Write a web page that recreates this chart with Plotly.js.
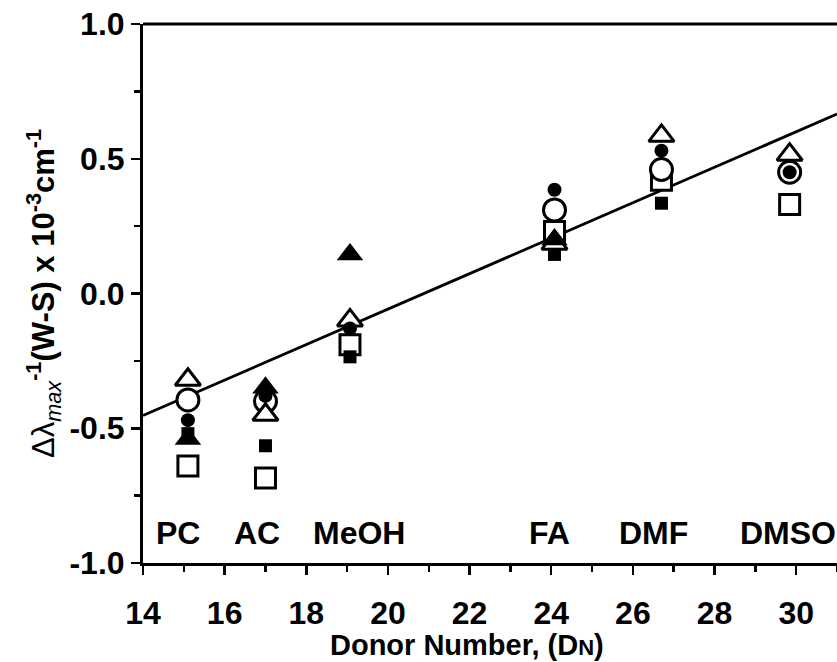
<!DOCTYPE html>
<html>
<head>
<meta charset="utf-8">
<script src="https://cdn.plot.ly/plotly-3.0.1.min.js"></script>
<style>
  html, body { margin: 0; padding: 0; background: #fff; }
  #chart { width: 837px; height: 662px; }
</style>
</head>
<body>
<div id="chart"></div>
<script>
// Solvents and donor numbers
const solvents = ["PC", "AC", "MeOH", "FA", "DMF", "DMSO"];
const donorNumber = [15.1, 17.0, 19.07, 24.08, 26.7, 29.84];

// Series values (Δλmax^-1 (W-S) x 10^-3 cm^-1)
const openSquare    = [-0.64, -0.685, -0.19, 0.23, 0.42, 0.33];
const openCircle    = [-0.395, -0.40, null, 0.31, 0.46, 0.45];
const openTriangle  = [-0.32, -0.45, -0.10, 0.185, 0.585, 0.515];
const filledSquare  = [-0.52, -0.565, -0.235, 0.145, 0.335, null];
const filledTriangle= [-0.54, -0.35, 0.145, 0.20, null, null];
const filledCircle  = [-0.47, -0.38, -0.13, 0.385, 0.53, 0.45];

// Fitted line end points
const fitX = [14, 31];
const fitY = [-0.453, 0.666];

// Solvent label positions (x in DN units, y in data units)
const labelX = [14.85, 16.8, 19.3, 23.95, 26.5, 29.8];
const labelY = [-0.89, -0.89, -0.89, -0.89, -0.89, -0.89];

const xTicks = [14, 16, 18, 20, 22, 24, 26, 28, 30];
const yTicks = [-1.0, -0.5, 0.0, 0.5, 1.0];
const yTickText = ["-1.0", "-0.5", "0.0", "0.5", "1.0"];

const FONT = "Liberation Sans, Arial, Helvetica, sans-serif";

function series(y, symbol, size, filled, lw) {
  return {
    x: donorNumber, y: y, type: "scatter", mode: "markers",
    cliponaxis: false,
    marker: {
      symbol: symbol, size: size,
      color: filled ? "#000" : "#fff",
      line: { color: "#000", width: lw }
    },
    hoverinfo: "x+y", showlegend: false
  };
}

const traces = [
  { x: fitX, y: fitY, type: "scatter", mode: "lines",
    line: { color: "#000", width: 2.8 }, showlegend: false, hoverinfo: "skip" },
  series(openSquare, "square", 20, false, 3),
  series(openCircle, "circle", 22, false, 3),
  series(openTriangle, "triangle-up", 22, false, 3),
  series(filledSquare, "square", 13, true, 0),
  series(filledTriangle, "triangle-up", 23, true, 0),
  series(filledCircle, "circle", 14, true, 0)
];

const annotations = solvents.map((s, i) => ({
  x: labelX[i], y: labelY[i], xref: "x", yref: "y",
  text: "<b>" + s + "</b>", showarrow: false,
  font: { family: FONT, size: 32, color: "#000" },
  xanchor: "center", yanchor: "middle"
}));

annotations.push({
  xref: "paper", yref: "paper", x: 0.467, y: -0.152,
  xanchor: "center", yanchor: "middle", showarrow: false,
  text: "<b>Donor Number, (D<span style='font-size:22px'>N</span>)</b>",
  font: { family: FONT, size: 29, color: "#000" }
});

const layout = {
  width: 837, height: 662,
  margin: { l: 143, r: 0, t: 24, b: 99 },
  paper_bgcolor: "#fff", plot_bgcolor: "#fff",
  font: { family: FONT, color: "#000" },
  xaxis: {
    range: [14, 31], showgrid: false, zeroline: false,
    showline: true, linecolor: "#000", linewidth: 3,
    ticks: "outside", ticklen: 9, tickwidth: 2.5, tickcolor: "#000",
    tickvals: xTicks, ticktext: xTicks.map(v => "<b>" + v + "</b>"),
    tickfont: { family: FONT, size: 32, color: "#000" },
    ticklabelstandoff: 11,
    minor: { dtick: 1, ticks: "outside", ticklen: 6, tickwidth: 2.5, tickcolor: "#000", showgrid: false }
  },
  yaxis: {
    range: [-1.0, 1.0], showgrid: false, zeroline: false,
    showline: true, linecolor: "#000", linewidth: 3,
    ticks: "outside", ticklen: 9, tickwidth: 2.5, tickcolor: "#000",
    tickvals: yTicks, ticktext: yTickText.map(v => "<b>" + v + "</b>"),
    tickfont: { family: FONT, size: 32, color: "#000" },
    minor: { dtick: 0.25, ticks: "outside", ticklen: 6, tickwidth: 2.5, tickcolor: "#000", showgrid: false },
    title: { text: "Δλ<sub><i>max</i></sub><b><sup>-1</sup>(W-S) x 10<sup>-3</sup>cm<sup>-1</sup></b>",
             font: { family: FONT, size: 31, color: "#000" }, standoff: 6 }
  },
  shapes: [
    { type: "line", xref: "paper", yref: "paper", x0: 0, x1: 1, y0: 1, y1: 1,
      line: { color: "#000", width: 3 } }
  ],
  annotations: annotations
};

Plotly.newPlot("chart", traces, layout, { displayModeBar: false, staticPlot: true });
</script>
</body>
</html>
